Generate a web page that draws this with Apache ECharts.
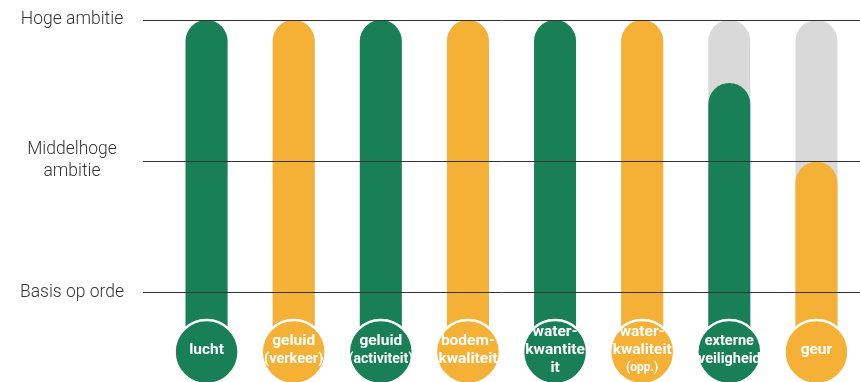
<!DOCTYPE html>
<html>
<head>
<meta charset="utf-8">
<script src="https://cdn.jsdelivr.net/npm/echarts@6/dist/echarts.min.js"></script>
<style>
  html, body { margin: 0; padding: 0; background: #fff; }
  #chart { width: 860px; height: 382px; }
</style>
</head>
<body>
<div id="chart"></div>
<script>
// categories and reached ambition level (0 = bar base, 100 = Hoge ambitie)
const categories = ['lucht', 'geluid (verkeer)', 'geluid (activiteit)', 'bodemkwaliteit',
  'waterkwantiteit', 'waterkwaliteit (opp.)', 'externe veiligheid', 'geur']
const ambition = [100, 100, 100, 100, 100, 100, 80, 55]
const maxAmbition = [100, 100, 100, 100, 100, 100, 100, 100]
const levelValues = [13.6, 55.3, 100]
const levelLabels = ['Basis op orde', 'Middelhoge\nambitie', 'Hoge ambitie']
const circleTexts = [
  '{a|lucht}',
  '{a|geluid}\n{b|(verkeer)}',
  '{a|geluid}\n{c|(activiteit)}',
  '{a|bodem-}\n{a|kwaliteit}',
  '{a|water-}\n{a|kwantite}\n{a|it}',
  '{a|water-}\n{a|kwaliteit}\n{d|(opp.)}',
  '{b|externe}\n{b|veiligheid}',
  '{a|geur}'
]
const circleY = -5.4

const GREEN = '#187f57'
const ORANGE = '#f5b036'
const colors = [GREEN, ORANGE, GREEN, ORANGE, GREEN, ORANGE, GREEN, ORANGE]

const chart = echarts.init(document.getElementById('chart'))

const txt = size => ({ fontSize: size, fontWeight: 'bold', color: '#fff', lineHeight: 18, fontFamily: 'Roboto, sans-serif' })

const option = {
  animation: false,
  backgroundColor: '#fff',
  grid: [
    { left: 163, width: 701, top: 20, bottom: 47 },
    { left: 143, right: 0, top: 20, bottom: 47 }
  ],
  xAxis: [
    { type: 'category', data: categories, gridIndex: 0, show: false },
    { type: 'value', gridIndex: 1, min: 0, max: 1, show: false }
  ],
  yAxis: [
    { type: 'value', gridIndex: 0, min: 0, max: 100, show: false },
    {
      type: 'value', gridIndex: 1, min: 0, max: 100,
      axisLine: { show: false },
      axisTick: { show: false },
      splitLine: { show: false },
      axisLabel: {
        customValues: levelValues,
        formatter: v => levelLabels[levelValues.indexOf(v)] || '',
        align: 'center',
        margin: 71,
        color: '#333',
        fontSize: 17.5,
        lineHeight: 22,
        fontFamily: 'Roboto, sans-serif',
        fontWeight: 300
      }
    }
  ],
  series: [
    {
      type: 'line',
      xAxisIndex: 1,
      yAxisIndex: 1,
      data: [],
      silent: true,
      markLine: {
        symbol: 'none',
        silent: true,
        label: { show: false },
        lineStyle: { color: '#333', width: 1, type: 'solid' },
        data: levelValues.map(v => ({ yAxis: v }))
      },
      z: 5
    },
    {
      type: 'bar',
      name: 'max',
      data: maxAmbition,
      barWidth: 42,
      itemStyle: { color: '#d9d9d9', borderRadius: [21, 21, 0, 0] },
      z: 1
    },
    {
      type: 'bar',
      name: 'ambitie',
      data: ambition.map((v, i) => ({ value: v, itemStyle: { color: colors[i] } })),
      barWidth: 42,
      barGap: '-100%',
      itemStyle: { borderRadius: [21, 21, 0, 0] },
      z: 2
    },
    {
      type: 'scatter',
      data: categories.map((c, i) => ({ value: [i, circleY], itemStyle: { color: colors[i] } })),
      symbolSize: 64,
      clip: false,
      itemStyle: { borderColor: '#fff', borderWidth: 2.5, opacity: 1 },
      label: {
        show: true,
        position: 'inside',
        offset: [0, -2],
        formatter: p => circleTexts[p.dataIndex],
        color: '#fff',
        fontFamily: 'Roboto, sans-serif',
        fontWeight: 'bold',
        lineHeight: 18,
        rich: { a: txt(15.5), b: txt(14.5), c: txt(14), d: txt(12) }
      },
      z: 10
    }
  ]
}

chart.setOption(option)
</script>
</body>
</html>
